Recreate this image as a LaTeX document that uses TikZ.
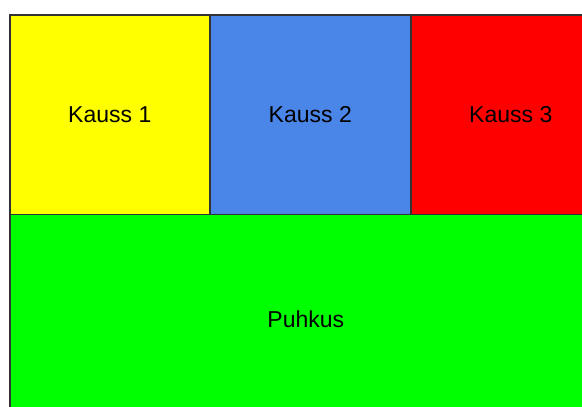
\documentclass[tikz,border=0pt]{standalone}
\usepackage{fontspec}
\setmainfont{Liberation Sans}
\definecolor{bordc}{HTML}{333333}
\definecolor{kblue}{HTML}{4A86E8}
\definecolor{kgreen}{HTML}{00FF00}
\definecolor{kyellow}{HTML}{FFFF00}
\begin{document}
\begin{tikzpicture}[x=1pt,y=-1pt,
  cell/.style={draw=bordc,line width=1.6pt,minimum width=200pt,minimum height=200pt,inner sep=0pt,font=\fontsize{23}{27}\selectfont,text=black,anchor=north west}]
\useasboundingbox (0,0) rectangle (582,407);
\clip (0,0) rectangle (582,407);
\fill[white] (0,0) rectangle (582,407);
\node[cell,fill=kyellow] (k1) at (9,14) {Kauss 1};
\node[cell,fill=kblue] (k2) at (209.5,14) {Kauss 2};
\node[cell,fill=red] (k3) at (410,14) {Kauss 3};
\node[cell,fill=kgreen,minimum width=592pt,minimum height=210pt] (p) at (9,213.5) {Puhkus};
\end{tikzpicture}
\end{document}
